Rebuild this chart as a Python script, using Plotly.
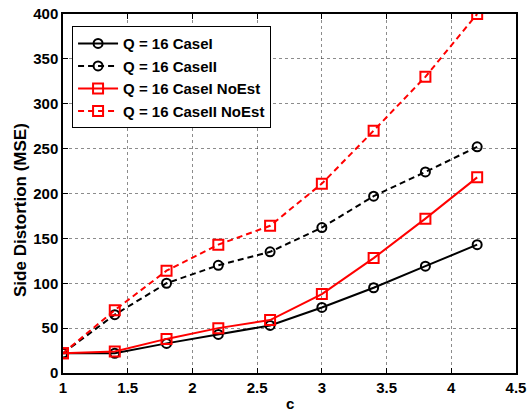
import plotly.graph_objects as go

# Compression factor c
c_values = [1.0, 1.4, 1.8, 2.2, 2.6, 3.0, 3.4, 3.8, 4.2]

# Side distortion (MSE) for each configuration
case1 = [22, 22, 33, 43, 53, 73, 95, 119, 143]
case2 = [22, 65, 100, 120, 135, 162, 197, 224, 252]
case1_noest = [22, 24, 38, 50, 59, 88, 128, 172, 218]
case2_noest = [22, 70, 114, 143, 164, 211, 270, 330, 400]

series_names = ["Q = 16 CaseI", "Q = 16 CaseII", "Q = 16 CaseI NoEst", "Q = 16 CaseII NoEst"]

FONT = "Liberation Sans, Arial, sans-serif"

styles = [
    dict(color="black", dash="solid", symbol="circle-open", size=9),
    dict(color="black", dash="6px,4px", symbol="circle-open", size=9),
    dict(color="red", dash="solid", symbol="square-open", size=10),
    dict(color="red", dash="6px,4px", symbol="square-open", size=10),
]

fig = go.Figure()
for name, ys, st in zip(series_names, [case1, case2, case1_noest, case2_noest], styles):
    fig.add_trace(go.Scatter(
        x=c_values, y=ys, name=name, mode="lines+markers",
        line=dict(color=st["color"], width=2, dash=st["dash"]),
        marker=dict(symbol=st["symbol"], size=st["size"], color=st["color"],
                    line=dict(color=st["color"], width=2)),
    ))

axis_common = dict(
    showline=True, linecolor="black", linewidth=1.5, mirror="ticks",
    ticks="inside", ticklen=5, tickcolor="black", tickwidth=1,
    showgrid=True, gridcolor="rgba(0,0,0,0.45)", griddash="dot", gridwidth=1,
    zeroline=False, automargin=False, ticklabeloverflow="allow",
    tickfont=dict(family=FONT, size=15, color="black", weight="bold"),
)

fig.update_xaxes(range=[1, 4.5], dtick=0.5, tick0=1, **axis_common)
fig.update_yaxes(range=[0, 400], dtick=50, tick0=0, **axis_common)

# Axis titles
fig.add_annotation(text="c", xref="paper", yref="paper", x=0.5, y=-0.1142,
                   xanchor="center", yanchor="bottom", showarrow=False,
                   font=dict(family=FONT, size=15, color="black", weight="bold"))
fig.add_annotation(text="Side Distortion (MSE)", xref="paper", yref="paper",
                   x=-0.095, y=0.454, textangle=-90,
                   xanchor="center", yanchor="middle", showarrow=False,
                   font=dict(family=FONT, size=17, color="black", weight="bold"))

fig.update_layout(
    width=527, height=414,
    margin=dict(l=63, r=11, t=14, b=41),
    paper_bgcolor="white", plot_bgcolor="white",
    showlegend=True,
    legend=dict(
        x=0.02, y=0.966, xanchor="left", yanchor="top",
        bgcolor="white", bordercolor="black", borderwidth=1,
        font=dict(family=FONT, size=15, color="black", weight="bold"),
        itemwidth=40,
    ),
)

fig.write_html("out.html")
